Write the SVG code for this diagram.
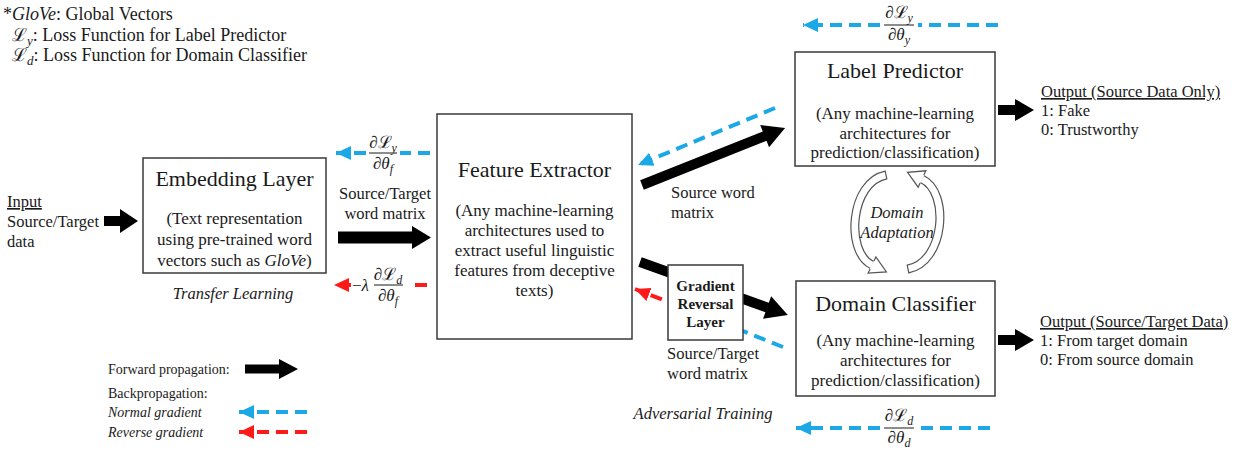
<svg xmlns="http://www.w3.org/2000/svg" width="1233" height="449" viewBox="0 0 1233 449">
<style>
.box{fill:#fff;stroke:#3a3a3a;stroke-width:1.5}
.t{font-family:"Liberation Serif","DejaVu Serif",serif;fill:#1a1a1a}
.m{font-family:"Liberation Serif","DejaVu Serif",serif;fill:#1a1a1a;font-size:17px}
.title{font-size:22px}
.sub{font-size:17px}
.note{font-size:18px}
.lbl{font-size:16.5px}
.leg{font-size:14px}
.it{font-style:italic}
.b{font-weight:bold}
.c{text-anchor:middle}
.u{text-decoration:underline}
.blk{fill:#000}
.bl{stroke:#1BA8E6;stroke-width:4;stroke-dasharray:12 7;fill:none}
.rd{stroke:#FF1A1A;stroke-width:4;stroke-dasharray:12 7;fill:none}
.bar{stroke:#1a1a1a;stroke-width:1}
.ring{fill:none;stroke:#555;stroke-width:9}
.ringin{fill:none;stroke:#fff;stroke-width:6.6}
.hd{fill:#fff;stroke:none}
.hdl{fill:none;stroke:#555;stroke-width:1.2}
</style>
<defs>
<marker id="ab" markerUnits="userSpaceOnUse" markerWidth="16" markerHeight="14" refX="15" refY="7" orient="auto"><path d="M0,0 L15,7 L0,14 z" fill="#1BA8E6"/></marker>
<marker id="ar" markerUnits="userSpaceOnUse" markerWidth="16" markerHeight="14" refX="15" refY="7" orient="auto"><path d="M0,0 L15,7 L0,14 z" fill="#FF1A1A"/></marker>
</defs>
<rect width="1233" height="449" fill="#fff"/>

<g id="notes" class="t note">
<text x="3" y="20">*<tspan class="it">GloVe</tspan>: Global Vectors</text>
<text x="12" y="41">ℒ<tspan class="it" font-size="13" dy="4">y</tspan><tspan dy="-4">: Loss Function for Label Predictor</tspan></text>
<text x="12" y="61">ℒ<tspan class="it" font-size="13" dy="4">d</tspan><tspan dy="-4">: Loss Function for Domain Classifier</tspan></text>
</g>

<g id="connectors">
<polygon class="blk" points="104,216 120,216 120,209 138,221 120,233 120,226 104,226"/>
<polygon class="blk" points="338,231.5 412,231.5 412,226 431,237.5 412,249 412,243.5 338,243.5"/>
<polygon class="blk" transform="translate(642,185) rotate(-21.7)" points="0,-5 132,-5 132,-12 154,0 132,12 132,5 0,5"/>
<polygon class="blk" transform="translate(640,262) rotate(19.7)" points="0,-5 135,-5 135,-12 157,0 135,12 135,5 0,5"/>
<polygon class="blk" points="998,105 1015,105 1015,99 1034,110 1015,121 1015,115 998,115"/>
<polygon class="blk" points="998,335 1015,335 1015,329 1034,340 1015,351 1015,345 998,345"/>
<line class="bl" x1="430" y1="153" x2="400" y2="153"/>
<line class="bl" x1="366" y1="153" x2="336" y2="153" marker-end="url(#ab)"/>
<line class="rd" x1="427" y1="285" x2="408" y2="285"/>
<line class="rd" x1="351" y1="285" x2="334" y2="285" stroke-dasharray="none" marker-end="url(#ar)"/>
<line class="bl" x1="998" y1="25" x2="918" y2="25"/>
<line class="bl" x1="880" y1="25" x2="803" y2="25" marker-end="url(#ab)"/>
<line class="bl" x1="775" y1="108" x2="638" y2="165" marker-end="url(#ab)"/>
<line class="bl" x1="783" y1="347" x2="715" y2="320"/>
<line class="rd" x1="715" y1="320" x2="635" y2="289" marker-end="url(#ar)"/>
<line class="bl" x1="990" y1="428" x2="918" y2="428"/>
<line class="bl" x1="880" y1="428" x2="796" y2="428" marker-end="url(#ab)"/>
<path class="ring" d="M886,175 C850,182 845,252 872,265"/>
<path class="ringin" d="M886,175 C850,182 845,252 872,265"/>
<line class="hdl" x1="886.9" y1="179.4" x2="885.1" y2="170.6"/>
<polygon class="hd" points="868.1,273.1 886.4,271.9 875.9,256.9"/>
<polyline class="hdl" points="870.1,269.1 868.1,273.1 886.4,271.9 875.9,256.9 873.9,260.9"/>
<path class="ring" d="M908,269 C945,262 950,192 922,179"/>
<path class="ringin" d="M908,269 C945,262 950,192 922,179"/>
<line class="hdl" x1="908.9" y1="273.4" x2="907.1" y2="264.6"/>
<polygon class="hd" points="925.8,170.8 907.5,172.3 918.2,187.2"/>
<polyline class="hdl" points="923.9,174.9 925.8,170.8 907.5,172.3 918.2,187.2 920.1,183.1"/>
</g>

<g id="gradient-labels">
<text class="m c" x="383" y="148">∂ℒ<tspan class="it" font-size="12" dy="4">y</tspan></text>
<line class="bar" x1="369" y1="153" x2="397" y2="153"/>
<text class="m c" x="383" y="169">∂<tspan class="it">θ</tspan><tspan class="it" font-size="12" dy="4">f</tspan></text>
<text class="m" x="352" y="291" font-size="18">−<tspan class="it">λ</tspan></text>
<text class="m c" x="388" y="280">∂ℒ<tspan class="it" font-size="12" dy="4">d</tspan></text>
<line class="bar" x1="374" y1="285" x2="403" y2="285"/>
<text class="m c" x="388" y="301">∂<tspan class="it">θ</tspan><tspan class="it" font-size="12" dy="4">f</tspan></text>
<text class="m c" x="899" y="18">∂ℒ<tspan class="it" font-size="12" dy="4">y</tspan></text>
<line class="bar" x1="884" y1="25" x2="914" y2="25"/>
<text class="m c" x="899" y="40">∂<tspan class="it">θ</tspan><tspan class="it" font-size="12" dy="4">y</tspan></text>
<text class="m c" x="899" y="421">∂ℒ<tspan class="it" font-size="12" dy="4">d</tspan></text>
<line class="bar" x1="884" y1="428" x2="914" y2="428"/>
<text class="m c" x="899" y="443">∂<tspan class="it">θ</tspan><tspan class="it" font-size="12" dy="4">d</tspan></text>
</g>

<g id="labels" class="t lbl">
<text x="7" y="207" class="u">Input</text>
<text x="7" y="227">Source/Target</text>
<text x="7" y="247">data</text>
<text x="385" y="199" class="c">Source/Target</text>
<text x="385" y="219" class="c">word matrix</text>
<text x="671" y="198">Source word</text>
<text x="671" y="218">matrix</text>
<text x="667" y="359">Source/Target</text>
<text x="667" y="379">word matrix</text>
<text x="233" y="299" class="c it">Transfer Learning</text>
<text x="703" y="419" class="c it">Adversarial Training</text>
<text x="897" y="218" class="c it">Domain</text>
<text x="897" y="238" class="c it">Adaptation</text>
<text x="1041" y="97" class="u">Output (Source Data Only)</text>
<text x="1041" y="116">1: Fake</text>
<text x="1041" y="135">0: Trustworthy</text>
<text x="1040" y="327" class="u">Output (Source/Target Data)</text>
<text x="1040" y="346">1: From target domain</text>
<text x="1040" y="365">0: From source domain</text>
</g>

<g id="embedding-layer">
<rect class="box" x="143" y="158" width="183" height="115"/>
<text class="t title c" x="234.5" y="186">Embedding Layer</text>
<text class="t sub c" x="234.5" y="224">(Text representation</text>
<text class="t sub c" x="234.5" y="245">using pre-trained word</text>
<text class="t sub c" x="234.5" y="266">vectors such as <tspan class="it">GloVe</tspan>)</text>
</g>

<g id="feature-extractor">
<rect class="box" x="437" y="114" width="195" height="225"/>
<text class="t title c" x="534.5" y="177">Feature Extractor</text>
<text class="t sub c" x="534.5" y="216">(Any machine-learning</text>
<text class="t sub c" x="534.5" y="236">architectures used to</text>
<text class="t sub c" x="534.5" y="256">extract useful linguistic</text>
<text class="t sub c" x="534.5" y="276">features from deceptive</text>
<text class="t sub c" x="534.5" y="296">texts)</text>
</g>

<g id="gradient-reversal-layer">
<rect class="box" x="668" y="265" width="75" height="75"/>
<text class="t b c" font-size="15" x="705.5" y="291">Gradient</text>
<text class="t b c" font-size="15" x="705.5" y="309">Reversal</text>
<text class="t b c" font-size="15" x="705.5" y="327">Layer</text>
</g>

<g id="label-predictor">
<rect class="box" x="795" y="52" width="200" height="114"/>
<text class="t title c" x="895" y="78">Label Predictor</text>
<text class="t sub c" x="895" y="119">(Any machine-learning</text>
<text class="t sub c" x="895" y="139">architectures for</text>
<text class="t sub c" x="895" y="158">prediction/classification)</text>
</g>

<g id="domain-classifier">
<rect class="box" x="796" y="281" width="199" height="115"/>
<text class="t title c" x="895.5" y="311">Domain Classifier</text>
<text class="t sub c" x="895.5" y="346">(Any machine-learning</text>
<text class="t sub c" x="895.5" y="366">architectures for</text>
<text class="t sub c" x="895.5" y="386">prediction/classification)</text>
</g>

<g id="legend" class="t leg">
<text x="108" y="374">Forward propagation:</text>
<polygon class="blk" points="245,364.5 279,364.5 279,359 298,369 279,379 279,373.5 245,373.5"/>
<text x="108" y="398">Backpropagation:</text>
<text x="108" y="417" class="it">Normal gradient</text>
<line class="bl" x1="307" y1="412" x2="239" y2="412" stroke-dasharray="11 6" marker-end="url(#ab)"/>
<text x="108" y="437" class="it">Reverse gradient</text>
<line class="rd" x1="307" y1="432" x2="239" y2="432" stroke-dasharray="11 6" marker-end="url(#ar)"/>
</g>
</svg>
